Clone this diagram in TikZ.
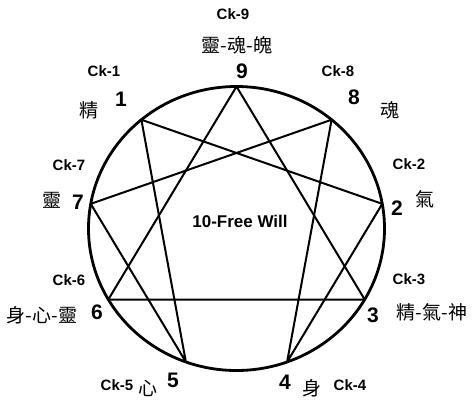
\documentclass[tikz,border=0pt]{standalone}
\usepackage{fontspec}
\setmainfont{Liberation Sans}
\newfontfamily\cjk{Noto Sans CJK TC}
\begin{document}
\begin{tikzpicture}[x=1pt,y=1pt,
  ck/.style={font=\bfseries\fontsize{15}{17}\selectfont},
  num/.style={font=\bfseries\fontsize{21}{23}\selectfont},
  zi/.style={font=\cjk\fontsize{19}{21}\selectfont}]
\useasboundingbox (-236.5,-176.5) rectangle (236.5,228.5);
\draw[line width=2.8pt] (0,0) ellipse (148 and 142);
% the nine points on the rim
\foreach \n/\a in {9/90,1/130,7/170,6/210,5/250,4/290,3/330,2/10,8/50}
  \coordinate (p\n) at (\a:148 and 142);
\draw[line width=2pt,line join=round] (p9) -- (p3) -- (p6) -- cycle;
\draw[line width=2pt,line join=round]
  (p1) -- (p2) -- (p4) -- (p8) -- (p7) -- (p5) -- cycle;
% centre
\node[ck,font=\bfseries\fontsize{17}{19}\selectfont] (will) at (3.5,7.5) {10-Free Will};
% top
\node[ck] (ck9) at (-3.5,214.5) {Ck-9};
\node[zi] (z9) at (0.5,183.5) {靈-魂-魄};
\node[num] (n9) at (5.5,157.5) {9};
% left side
\node[ck] (ck1) at (-132.5,157.5) {Ck-1};
\node[num] (n1) at (-115.5,129.5) {1};
\node[zi] (z1) at (-147.5,118.5) {精};
\node[ck] (ck7) at (-167.5,63.5) {Ck-7};
\node[zi] (z7) at (-184.5,28.5) {靈};
\node[num] (n7) at (-158.5,26.5) {7};
\node[ck] (ck6) at (-167.5,-51.5) {Ck-6};
\node[zi] (z6) at (-194.5,-86.5) {身-心-靈};
\node[num] (n6) at (-139.5,-83.5) {6};
\node[ck] (ck5) at (-119.5,-156.5) {Ck-5};
\node[zi] (z5) at (-88.5,-159.5) {心};
\node[num] (n5) at (-63.5,-151.5) {5};
% right side
\node[ck] (ck8) at (101.5,157.5) {Ck-8};
\node[num] (n8) at (117.5,131.5) {8};
\node[zi] (z8) at (153.5,118.5) {魂};
\node[ck] (ck2) at (172.5,64.5) {Ck-2};
\node[num] (n2) at (160.5,20.5) {2};
\node[zi] (z2) at (188.5,29.5) {氣};
\node[ck] (ck3) at (172.5,-50.5) {Ck-3};
\node[num] (n3) at (136.5,-86.5) {3};
\node[zi] (z3) at (195.5,-83.5) {精-氣-神};
\node[num] (n4) at (48.5,-153.5) {4};
\node[zi] (z4) at (75.5,-159.5) {身};
\node[ck] (ck4) at (113.5,-156.5) {Ck-4};
\end{tikzpicture}
\end{document}
